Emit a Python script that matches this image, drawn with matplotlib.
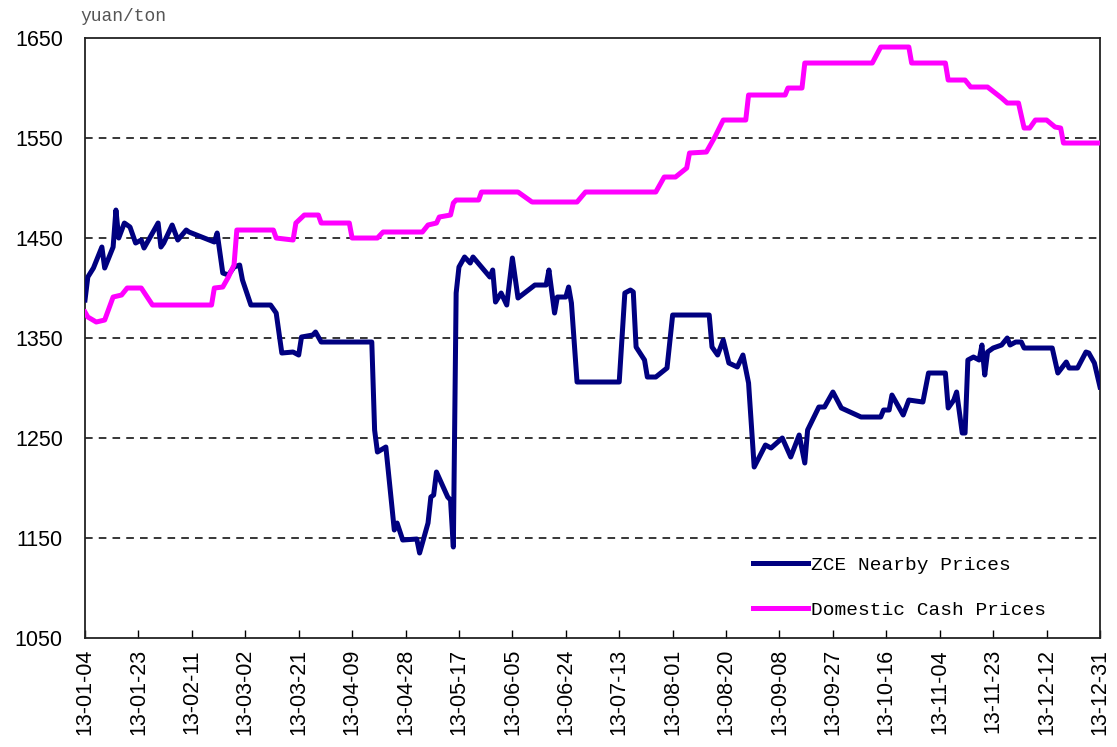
import matplotlib
matplotlib.use("Agg")
import matplotlib.pyplot as plt
import matplotlib.dates as mdates
import pandas as pd

# day offsets from 2013-01-04, values in yuan/ton
start = pd.Timestamp("2013-01-04")

zce_days = [0, 1, 3, 6, 7, 10, 11, 12, 14, 16, 18, 20, 21, 26, 27, 28, 31, 33, 36, 37,
            46, 47, 49, 51, 53, 55, 56, 59, 66, 68, 70, 74, 76, 77, 81, 82, 84, 102,
            103, 104, 107, 110, 111, 113, 118, 119, 122, 123, 124, 125, 129, 130, 131,
            132, 133, 135, 137, 138, 144, 145, 146, 148, 150, 152, 154, 160, 164, 165,
            167, 168, 171, 172, 173, 175, 190, 192, 194, 195, 196, 199, 200, 203, 207,
            209, 222, 223, 225, 227, 229, 232, 234, 236, 238, 242, 244, 248, 251, 254,
            256, 257, 261, 263, 266, 269, 276, 283, 284, 286, 287, 291, 293, 298, 300,
            306, 307, 309, 310, 312, 313, 314, 316, 318, 319, 320, 321, 323, 326, 328,
            329, 331, 333, 334, 344, 346, 349, 350, 353, 356, 357, 359, 361]
zce_prices = [1388, 1411, 1420, 1441, 1420, 1441, 1478, 1450, 1465, 1461, 1445, 1448, 1440,
              1465, 1441, 1445, 1463, 1448, 1458, 1456, 1446, 1455, 1415, 1413, 1421, 1423,
              1408, 1383, 1383, 1375, 1335, 1336, 1333, 1351, 1353, 1356, 1346, 1346,
              1258, 1236, 1241, 1158, 1165, 1148, 1149, 1135, 1165, 1191, 1193, 1216,
              1191, 1188, 1141, 1395, 1421, 1431, 1425, 1431, 1411, 1418, 1386, 1395,
              1383, 1430, 1390, 1403, 1403, 1418, 1375, 1391, 1391, 1401, 1385, 1306,
              1306, 1395, 1398, 1396, 1341, 1328, 1311, 1311, 1320, 1373, 1373, 1341,
              1333, 1348, 1325, 1321, 1333, 1305, 1221, 1243, 1240, 1250, 1231, 1253,
              1225, 1258, 1281, 1281, 1296, 1280, 1271, 1271, 1278, 1278, 1293, 1273,
              1288, 1286, 1315, 1315, 1280, 1288, 1296, 1255, 1255, 1328, 1331, 1328,
              1343, 1313, 1336, 1340, 1343, 1350, 1343, 1346, 1346, 1340, 1340, 1315,
              1326, 1320, 1320, 1336, 1335, 1325, 1301]

cash_days = [0, 1, 4, 7, 10, 13, 15, 20, 24, 45, 46, 49, 51, 53, 54, 67, 68, 74, 75, 78,
             83, 84, 94, 95, 104, 106, 120, 122, 125, 126, 130, 131, 132, 140, 141, 154,
             159, 175, 178, 203, 206, 210, 214, 215, 221, 224, 227, 235, 236, 249, 250,
             255, 256, 280, 283, 293, 294, 306, 307, 313, 315, 321, 326, 328, 332, 334,
             336, 338, 342, 345, 347, 348, 361]
cash_prices = [1376, 1371, 1366, 1368, 1391, 1393, 1400, 1400, 1383, 1383, 1400, 1401, 1411,
               1423, 1458, 1458, 1450, 1448, 1465, 1473, 1473, 1465, 1465, 1450, 1450, 1456,
               1456, 1463, 1465, 1471, 1473, 1485, 1488, 1488, 1496, 1496, 1486, 1486, 1496,
               1496, 1511, 1511, 1520, 1535, 1536, 1551, 1568, 1568, 1593, 1593, 1600, 1600,
               1625, 1625, 1641, 1641, 1625, 1625, 1608, 1608, 1601, 1601, 1590, 1585, 1585,
               1560, 1560, 1568, 1568, 1561, 1560, 1545, 1545]

zce_dates = start + pd.to_timedelta(zce_days, unit="D")
cash_dates = start + pd.to_timedelta(cash_days, unit="D")
tick_dates = pd.date_range("2013-01-04", "2013-12-31", freq="19D")

fig = plt.figure(figsize=(11.17, 7.47), dpi=100)
ax = fig.add_axes([0.0761, 0.1459, 0.9087, 0.8032])

ax.plot(zce_dates, zce_prices, color="#000080", lw=3.6, label="ZCE Nearby Prices",
        solid_joinstyle="round", zorder=3)
ax.plot(cash_dates, cash_prices, color="#ff00ff", lw=3.6, label="Domestic Cash Prices",
        solid_joinstyle="round", zorder=3)

ax.set_xlim(start, pd.Timestamp("2013-12-31"))
ax.set_ylim(1050, 1650)
ax.set_yticks([1050, 1150, 1250, 1350, 1450, 1550, 1650])
for v in [1150, 1250, 1350, 1450, 1550]:
    ax.axhline(v, color="black", lw=1.1, ls=(0, (5, 4)), zorder=1)

ax.set_xticks(tick_dates)
ax.xaxis.set_major_formatter(mdates.DateFormatter("%y-%m-%d"))
ax.tick_params(axis="x", direction="in", length=6, width=1, pad=8, rotation=90,
               labelsize=15.5)
ax.tick_params(axis="y", length=0, pad=16, labelsize=15.5)
for lab in ax.get_xticklabels() + ax.get_yticklabels():
    lab.set_fontfamily("Liberation Sans")

for s in ax.spines.values():
    s.set_linewidth(1.3)
    s.set_color("#222222")

fig.text(0.072, 0.972, "yuan/ton", fontsize=13, family="Liberation Mono", color="#555555")

leg = ax.legend(loc="upper left", bbox_to_anchor=(0.641, 0.165), frameon=False,
                handlelength=2.8, labelspacing=1.4, handletextpad=0.2,
                prop={"family": "Liberation Mono", "size": 14})

fig.savefig("out.png", dpi=100)
